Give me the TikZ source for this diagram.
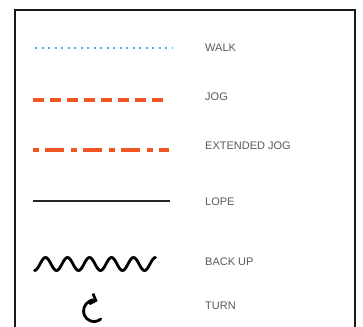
\documentclass[tikz,border=0pt]{standalone}
\usepackage{fontspec}
\setmainfont{Liberation Sans}
\usetikzlibrary{arrows.meta,positioning}
\definecolor{walkblue}{RGB}{84,170,225}
\definecolor{jogred}{RGB}{240,85,35}
\definecolor{labelgray}{RGB}{90,90,90}
\begin{document}
\begin{tikzpicture}[x=1pt,y=1pt,
  lbl/.style={anchor=west,inner sep=0pt,text=labelgray,
              font=\fontsize{11}{13}\selectfont},
  walkline/.style={walkblue,line width=2.4pt,dash pattern=on 2.2pt off 4.3pt},
  jogline/.style={jogred,line width=3.5pt,dash pattern=on 11pt off 6pt},
  extline/.style={jogred,line width=3.5pt,
                  dash pattern=on 6pt off 6pt on 19pt off 7pt},
  lopeline/.style={black!85,line width=2.5pt},
  iconline/.style={black,line width=2.8pt,line cap=round,line join=round}]
  \useasboundingbox (0,0) rectangle (363,326);
  % frame, open at the bottom
  \draw[black!90,line width=2.8pt] (15,-20) -- (15,316) -- (355,316) -- (355,-20);
  % labels
  \foreach \n/\y/\t in {walk/278/WALK, jog/229/JOG, ext/180/EXTENDED JOG,
                         lope/124/LOPE, back/64/BACK UP, turn/20/TURN}
    \node[lbl] (\n) at (205,\y) {\t};
  % samples
  \draw[walkline] (35,278) -- (172,278);
  \draw[jogline] (33,226) -- (168,226);
  \draw[extline] (33,176) -- (169,176);
  \draw[lopeline] (33,125) -- (170,125);
  \draw[iconline] plot[domain=-90:1890,samples=200]
    ({40+\x/360*22},{62+6.5*sin(\x)});
  \draw[iconline,{Straight Barb[length=5pt,width=11pt]}-]
    (94,15) ++(70:10.5) arc[start angle=70,end angle=310,radius=10.5];
\end{tikzpicture}
\end{document}
